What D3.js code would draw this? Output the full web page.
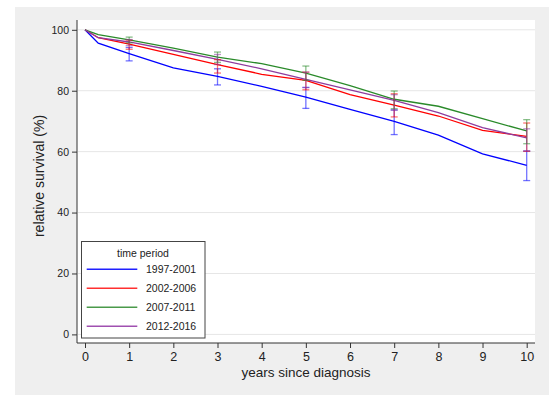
<!DOCTYPE html>
<html>
<head>
<meta charset="utf-8">
<script src="https://cdn.jsdelivr.net/npm/d3@7"></script>
<style>
  body { margin: 0; background: #fff; }
  text { font-family: "Liberation Sans", Arial, sans-serif; fill: #222; }
</style>
</head>
<body>
<div class="graph"></div>
<script>
// data
var years = [0, 0.3, 1, 2, 3, 4, 5, 6, 7, 8, 9, 10];
var periods = ["1997-2001", "2002-2006", "2007-2011", "2012-2016"];
var surv1997 = [100, 95.6, 92.2, 87.5, 84.7, 81.4, 77.9, 73.9, 69.9, 65.4, 59.3, 55.5];
var surv2002 = [100, 97.4, 95.3, 91.9, 88.6, 85.4, 83.4, 78.7, 75.3, 71.7, 67.0, 65.0];
var surv2007 = [100, 98.4, 96.7, 94.0, 91.0, 88.9, 85.8, 81.7, 77.2, 74.9, 70.8, 66.8];
var surv2012 = [100, 97.4, 96.0, 93.2, 90.3, 87.2, 83.7, 80.3, 76.8, 72.8, 67.9, 64.5];

var ciYears = [1, 3, 5, 7, 10];
var lo1997 = [89.8, 81.9, 74.2, 65.6, 50.5], hi1997 = [94.2, 87.2, 81.1, 73.7, 60.2];
var lo2002 = [93.6, 85.8, 80.3, 71.4, 60.1], hi2002 = [96.6, 90.2, 86.1, 79.0, 69.4];
var lo2007 = [95.7, 89.3, 83.4, 74.1, 62.6], hi2007 = [97.6, 92.7, 88.1, 79.9, 70.5];
var lo2012 = [94.8, 88.6, 81.0, 73.6, 60.2], hi2012 = [96.8, 91.9, 86.1, 78.7, 67.5];

var xTicks = [0, 1, 2, 3, 4, 5, 6, 7, 8, 9, 10];
var yTicks = [0, 20, 40, 60, 80, 100];

var lineColors = ["#0000ff", "#ff0000", "#2a8a2a", "#8e3c9e"];
var legendColors = ["#2020ff", "#ff3030", "#4a9a4a", "#a050b0"];

var series = [
  {name: periods[0], vals: surv1997, lo: lo1997, hi: hi1997},
  {name: periods[1], vals: surv2002, lo: lo2002, hi: hi2002},
  {name: periods[2], vals: surv2007, lo: lo2007, hi: hi2007},
  {name: periods[3], vals: surv2012, lo: lo2012, hi: hi2012}
];

var W = 556, H = 403;
var plot = {left: 77, right: 535, top: 20, bottom: 343};

var svg = d3.select(".graph").append("svg")
    .attr("width", W)
    .attr("height", H);

// outer gray panel
svg.append("rect")
    .attr("x", 15).attr("y", 7)
    .attr("width", 534).attr("height", 388)
    .attr("fill", "#efefef");

svg.append("rect")
    .attr("x", plot.left).attr("y", plot.top)
    .attr("width", plot.right - plot.left).attr("height", plot.bottom - plot.top)
    .attr("fill", "#fff");

var x = d3.scaleLinear().domain([0, 10]).range([85, 526.7]);
var y = d3.scaleLinear().domain([0, 100]).range([334.4, 29.8]);

// gridlines
svg.append("g").selectAll("line")
    .data(yTicks)
  .enter().append("line")
    .attr("x1", plot.left + 1).attr("x2", plot.right)
    .attr("y1", function(d) { return y(d); })
    .attr("y2", function(d) { return y(d); })
    .attr("stroke", "#e6e6e6")
    .attr("stroke-width", 1);

var xAxis = d3.axisBottom(x).tickValues(xTicks).tickSize(5).tickSizeOuter(0).tickPadding(4);
var yAxis = d3.axisLeft(y).tickValues(yTicks).tickSize(5).tickSizeOuter(0).tickPadding(3);

var gx = svg.append("g")
    .attr("transform", "translate(0," + plot.bottom + ")")
    .call(xAxis);
gx.select(".domain").attr("d", "M" + plot.left + ",0H" + plot.right);
gx.selectAll("text").style("font-size", "12.5px").attr("fill", "#222");

var gy = svg.append("g")
    .attr("transform", "translate(" + plot.left + ",0)")
    .call(yAxis);
gy.select(".domain").attr("d", "M0," + plot.top + "V" + plot.bottom);
gy.selectAll("text").style("font-size", "10.5px").attr("fill", "#222");

svg.selectAll(".domain, .tick line").attr("stroke", "#333");

svg.append("text")
    .attr("x", 306).attr("y", 377)
    .attr("text-anchor", "middle")
    .style("font-size", "13.5px")
    .text("years since diagnosis");

svg.append("text")
    .attr("transform", "translate(44,176) rotate(-90)")
    .attr("text-anchor", "middle")
    .style("font-size", "14px")
    .text("relative survival (%)");

var line = d3.line()
    .x(function(d) { return x(d[0]); })
    .y(function(d) { return y(d[1]); });

// lines
series.forEach(function(s, i) {
  svg.append("path")
      .datum(years.map(function(t, j) { return [t, s.vals[j]]; }))
      .attr("d", line)
      .attr("fill", "none")
      .attr("stroke", lineColors[i])
      .attr("stroke-width", 1.3);
});

// error bars
series.forEach(function(s, i) {
  var g = svg.append("g")
      .attr("stroke", lineColors[i])
      .attr("stroke-opacity", 0.55)
      .attr("stroke-width", 1.3);
  ciYears.forEach(function(t, j) {
    g.append("line")
        .attr("x1", x(t)).attr("x2", x(t))
        .attr("y1", y(s.lo[j])).attr("y2", y(s.hi[j]));
    g.append("line")
        .attr("x1", x(t) - 3.5).attr("x2", x(t) + 3.5)
        .attr("y1", y(s.lo[j])).attr("y2", y(s.lo[j]));
    g.append("line")
        .attr("x1", x(t) - 3.5).attr("x2", x(t) + 3.5)
        .attr("y1", y(s.hi[j])).attr("y2", y(s.hi[j]));
  });
});

// legend
var leg = svg.append("g");
leg.append("rect")
    .attr("x", 81.5).attr("y", 241.5)
    .attr("width", 123.5).attr("height", 96.5)
    .attr("fill", "#fff")
    .attr("stroke", "#444")
    .attr("stroke-width", 1);
leg.append("text")
    .attr("x", 143).attr("y", 257)
    .attr("text-anchor", "middle")
    .style("font-size", "10.5px")
    .attr("fill", "#2c4770")
    .text("time period");
series.forEach(function(s, i) {
  var ly = 269.3 + i * 19;
  leg.append("line")
      .attr("x1", 86.7).attr("x2", 137.3)
      .attr("y1", ly).attr("y2", ly)
      .attr("stroke", legendColors[i])
      .attr("stroke-width", 1.5);
  leg.append("text")
      .attr("x", 146).attr("y", ly + 4)
      .style("font-size", "10.5px")
      .text(s.name);
});
</script>
</body>
</html>
